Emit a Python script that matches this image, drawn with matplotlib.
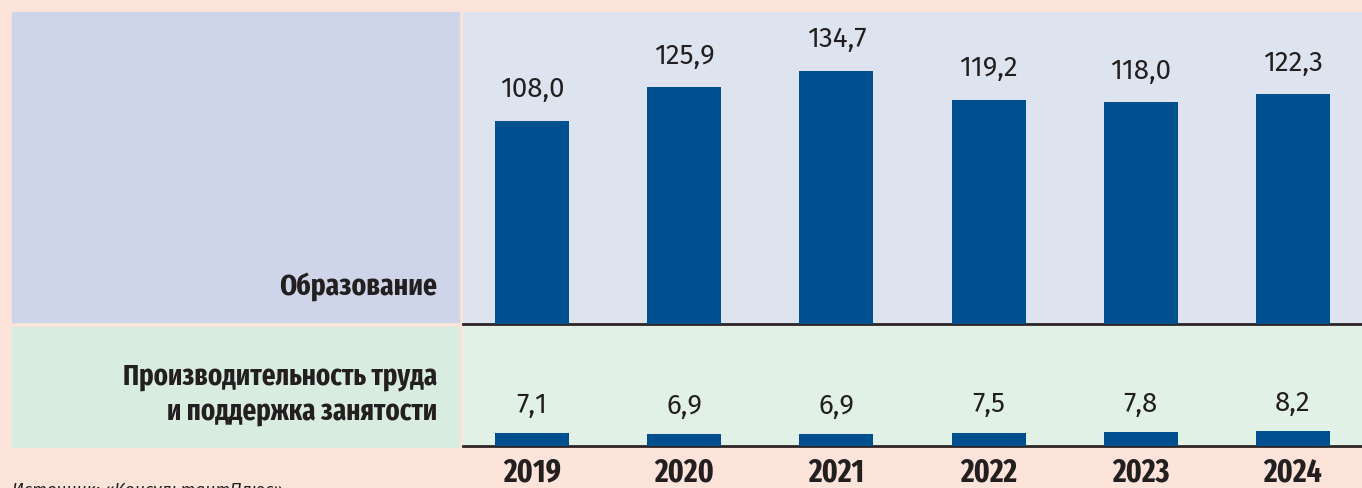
import matplotlib
matplotlib.use("Agg")
import matplotlib.pyplot as plt
from matplotlib.patches import Rectangle

# data
years = ["2019", "2020", "2021", "2022", "2023", "2024"]
education = [108.0, 125.9, 134.7, 119.2, 118.0, 122.3]
labour = [7.1, 6.9, 6.9, 7.5, 7.8, 8.2]
cat_top = "Образование"
cat_bottom = "Производительность труда\nи поддержка занятости"
source = "Источник: «КонсультантПлюс»"

W, H = 1362, 488
BG = "#FCE4DA"
BAR = "#00508F"
TXT = "#231F20"
LINE = "#2E2626"
VAL_FONT = ["Fira Sans", "Open Sans", "DejaVu Sans"]
BOLD_FONT = ["Fira Sans Extra Condensed", "Roboto", "DejaVu Sans"]


def fx(px):
    return px / W


def fy(py):
    return 1 - py / H


def fmt(v):
    return f"{v:.1f}".replace(".", ",")


fig = plt.figure(figsize=(W / 100, H / 100), dpi=100, facecolor=BG)

# left label panels
fig.patches.append(Rectangle((fx(12), fy(322)), fx(459 - 12), (322 - 12) / H,
                             transform=fig.transFigure, color="#CFD5E8", zorder=0))
fig.patches.append(Rectangle((fx(12), fy(447)), fx(459 - 12), (447 - 327) / H,
                             transform=fig.transFigure, color="#D8ECDF", zorder=0))

fig.text(fx(437), fy(287), cat_top, ha="right", va="center", fontsize=21.5,
         fontweight="bold", color=TXT, family=BOLD_FONT)
fig.text(fx(437), fy(394), cat_bottom, ha="right", va="center", fontsize=21,
         fontweight="bold", color=TXT, family=BOLD_FONT, linespacing=1.3)

fig.text(fx(12), fy(482), source, ha="left", va="top", fontsize=12.5,
         style="italic", color=TXT, family=VAL_FONT)

x = list(range(len(years)))
step = 152.2
xlim = (-(532 - 463) / step, -(532 - 463) / step + (W - 463) / step)
bw = 74 / step

# top panel
ax1 = fig.add_axes([fx(463), fy(324), fx(W - 463), (324 - 12) / H])
ax1.set_facecolor("#DDE3EF")
ax1.bar(x, education, width=bw, color=BAR, zorder=2)
ax1.set_xlim(*xlim)
ax1.set_ylim(0, 312 / 1.88)
for xi, v in zip(x, education):
    ax1.annotate(fmt(v), (xi, v), xytext=(0, 22.5), textcoords="offset points",
                 ha="center", va="center", fontsize=20, color=TXT, family=VAL_FONT)

# bottom panel
ax2 = fig.add_axes([fx(463), fy(446), fx(W - 463), (446 - 326) / H])
ax2.set_facecolor("#E2F1E6")
ax2.bar(x, labour, width=bw, color=BAR, zorder=2, clip_on=False)
ax2.set_xlim(*xlim)
ax2.set_ylim(0, 120 / 1.8)
for xi, v in zip(x, labour):
    ax2.annotate(fmt(v), (xi, v), xytext=(0, 20), textcoords="offset points",
                 ha="center", va="center", fontsize=20, color=TXT, family=VAL_FONT)

for ax in (ax1, ax2):
    for s in ("top", "left", "right"):
        ax.spines[s].set_visible(False)
    ax.spines["bottom"].set_color(LINE)
    ax.spines["bottom"].set_linewidth(2)
    ax.spines["bottom"].set_zorder(1)
    ax.set_yticks([])
    ax.tick_params(axis="x", length=0)

ax1.set_xticks([])
ax2.set_xticks(x)
ax2.set_xticklabels(years, fontsize=23, fontweight="bold", color=TXT, family=BOLD_FONT)
ax2.tick_params(axis="x", pad=8)

fig.savefig("out.png", dpi=100, facecolor=BG)
